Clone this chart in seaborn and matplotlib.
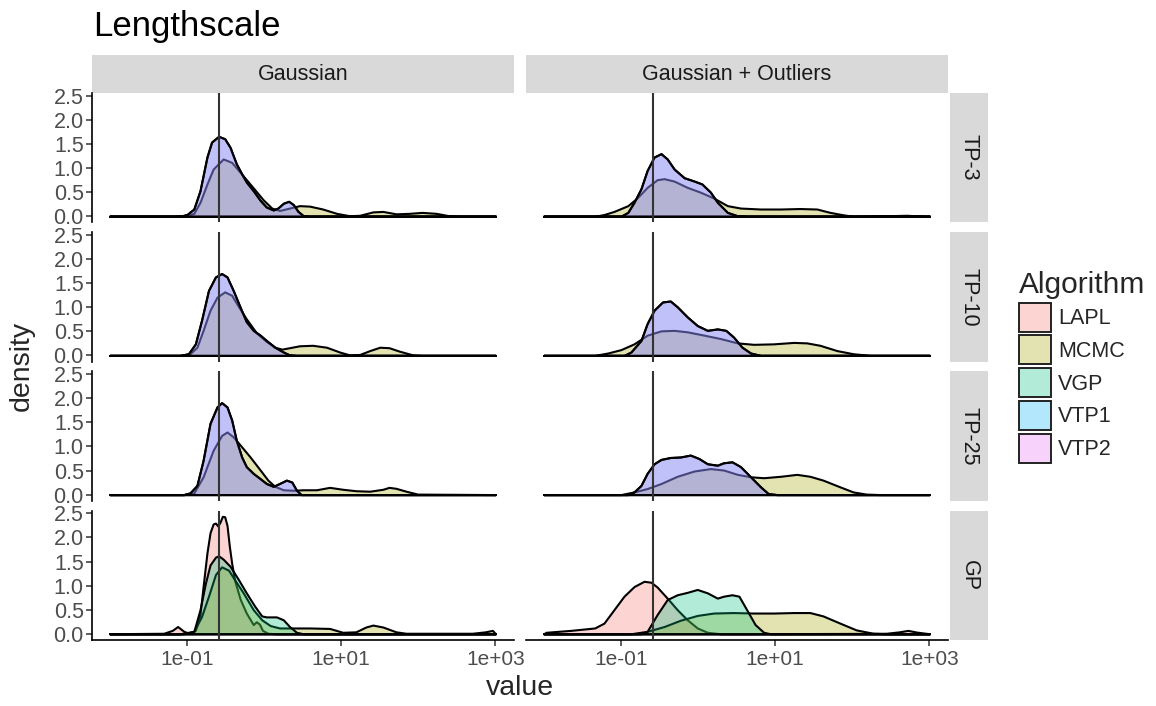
import numpy as np
import pandas as pd
import seaborn as sns
import matplotlib
matplotlib.use("Agg")
import matplotlib.pyplot as plt
from matplotlib.patches import Rectangle, Patch
from matplotlib.colors import to_rgba
from matplotlib.ticker import FixedLocator, NullLocator

sns.set_theme(style="ticks")
plt.rcParams["font.family"] = ["Liberation Sans", "DejaVu Sans"]

# ---------------- data (log10 of value, density) ----------------
models = ["TP-3", "TP-10", "TP-25", "GP"]
noises = ["Gaussian", "Gaussian + Outliers"]
algorithms = ["LAPL", "MCMC", "VGP", "VTP1", "VTP2"]
algo_colors = ["#F8766D", "#A3A500", "#00BF7D", "#00B0F6", "#E76BF3"]
true_lengthscale = 0.26
x_ticks = [1e-1, 1e1, 1e3]
x_tick_labels = ["1e-01", "1e+01", "1e+03"]
y_ticks = [0.0, 0.5, 1.0, 1.5, 2.0, 2.5]
y_tick_labels = ["0.0", "0.5", "1.0", "1.5", "2.0", "2.5"]

# TP-3, Gaussian
tp3_g_mcmc_lx = [-2.0, -1.17, -1.0, -0.91, -0.83, -0.74, -0.66, -0.53, -0.42, -0.33, -0.25, -0.14, -0.01, 0.10, 0.20,
                 0.33, 0.46, 0.59, 0.76, 0.94, 1.11, 1.24, 1.41, 1.54, 1.71, 1.88, 2.05, 2.23, 2.40, 2.53, 3.0]
tp3_g_mcmc_d = [0, 0, 0.02, 0.06, 0.29, 0.67, 0.98, 1.19, 1.12, 0.95, 0.80, 0.59, 0.34, 0.17, 0.12,
                0.17, 0.22, 0.21, 0.15, 0.06, 0.01, 0.02, 0.09, 0.10, 0.05, 0.06, 0.08, 0.06, 0.01, 0, 0]
tp3_g_vtp_lx = [-2.0, -1.09, -1.0, -0.91, -0.83, -0.74, -0.68, -0.59, -0.51, -0.44, -0.36, -0.29, -0.23, -0.14,
                -0.05, 0.03, 0.12, 0.18, 0.25, 0.32, 0.38, 0.44, 0.51, 0.59, 3.0]
tp3_g_vtp_d = [0, 0, 0.035, 0.15, 0.53, 1.23, 1.54, 1.66, 1.61, 1.43, 1.09, 0.88, 0.71, 0.53,
               0.33, 0.19, 0.13, 0.17, 0.27, 0.31, 0.24, 0.10, 0.01, 0, 0]

# TP-3, Gaussian + Outliers
tp3_o_mcmc_lx = [-2.0, -1.34, -1.22, -1.09, -0.91, -0.79, -0.66, -0.53, -0.44, -0.31, -0.14, 0.03, 0.20, 0.38,
                 0.55, 0.81, 1.07, 1.32, 1.54, 1.71, 1.88, 2.01, 2.44, 2.70, 2.96, 3.0]
tp3_o_mcmc_d = [0, 0, 0.035, 0.10, 0.22, 0.38, 0.60, 0.76, 0.78, 0.73, 0.60, 0.50, 0.38, 0.22,
                0.17, 0.15, 0.15, 0.16, 0.15, 0.08, 0.03, 0.0, 0.01, 0.02, 0, 0]
tp3_o_vtp_lx = [-2.0, -1.0, -0.91, -0.83, -0.74, -0.66, -0.57, -0.48, -0.40, -0.31, -0.18, -0.05, 0.05, 0.16,
                0.25, 0.38, 0.51, 0.63, 3.0]
tp3_o_vtp_d = [0, 0, 0.08, 0.29, 0.57, 0.95, 1.23, 1.30, 1.19, 0.98, 0.80, 0.73, 0.67, 0.50,
               0.29, 0.08, 0.01, 0, 0]

# TP-10, Gaussian
tp10_g_mcmc_lx = [-2.0, -1.04, -0.96, -0.87, -0.79, -0.70, -0.61, -0.51, -0.42, -0.33, -0.23, -0.10, 0.03, 0.14,
                  0.23, 0.33, 0.46, 0.63, 0.81, 0.98, 1.11, 1.24, 1.37, 1.50, 1.62, 1.75, 1.93, 2.05, 3.0]
tp10_g_mcmc_d = [0, 0, 0.035, 0.17, 0.52, 0.94, 1.21, 1.32, 1.25, 1.01, 0.76, 0.47, 0.29, 0.17,
                 0.13, 0.16, 0.20, 0.21, 0.17, 0.07, 0.01, 0.02, 0.10, 0.17, 0.16, 0.09, 0.01, 0, 0]
tp10_g_vtp_lx = [-2.0, -1.09, -0.98, -0.89, -0.81, -0.72, -0.63, -0.55, -0.48, -0.40, -0.31, -0.23, -0.14, -0.05,
                 0.03, 0.14, 0.25, 0.33, 0.42, 3.0]
tp10_g_vtp_d = [0, 0, 0.035, 0.24, 0.73, 1.35, 1.63, 1.70, 1.63, 1.35, 1.00, 0.70, 0.52, 0.42,
                0.31, 0.17, 0.07, 0.01, 0, 0]

# TP-10, Gaussian + Outliers
tp10_o_mcmc_lx = [-2.0, -1.34, -1.17, -1.0, -0.83, -0.66, -0.48, -0.31, -0.14, 0.08, 0.29, 0.51, 0.72, 0.98,
                  1.24, 1.41, 1.58, 1.80, 2.01, 2.23, 3.0]
tp10_o_mcmc_d = [0, 0, 0.05, 0.12, 0.24, 0.42, 0.51, 0.52, 0.49, 0.42, 0.35, 0.26, 0.23, 0.24,
                 0.27, 0.26, 0.21, 0.10, 0.035, 0, 0]
tp10_o_vtp_lx = [-2.0, -0.96, -0.87, -0.74, -0.66, -0.57, -0.46, -0.36, -0.27, -0.14, -0.01, 0.12, 0.25, 0.36,
                 0.46, 0.57, 0.68, 0.81, 3.0]
tp10_o_vtp_d = [0, 0, 0.07, 0.31, 0.66, 0.94, 1.11, 1.13, 1.01, 0.80, 0.62, 0.52, 0.55, 0.52,
                0.38, 0.17, 0.05, 0, 0]

# TP-25, Gaussian
tp25_g_mcmc_lx = [-2.0, -1.04, -0.91, -0.79, -0.66, -0.55, -0.48, -0.40, -0.31, -0.18, -0.05, 0.05, 0.14, 0.25,
                  0.38, 0.51, 0.68, 0.85, 1.02, 1.19, 1.37, 1.54, 1.62, 1.71, 1.84, 1.99, 3.0]
tp25_g_mcmc_d = [0, 0, 0.035, 0.37, 0.92, 1.23, 1.30, 1.20, 1.03, 0.78, 0.51, 0.30, 0.17, 0.10,
                 0.09, 0.10, 0.10, 0.15, 0.11, 0.08, 0.07, 0.11, 0.15, 0.13, 0.07, 0.01, 0]
tp25_g_vtp_lx = [-2.0, -1.04, -0.96, -0.87, -0.79, -0.70, -0.61, -0.55, -0.48, -0.42, -0.36, -0.29, -0.23, -0.14,
                 -0.05, 0.03, 0.12, 0.20, 0.29, 0.36, 0.42, 0.48, 3.0]
tp25_g_vtp_d = [0, 0, 0.035, 0.19, 0.71, 1.48, 1.82, 1.91, 1.82, 1.55, 1.13, 0.78, 0.58, 0.44,
                0.33, 0.23, 0.17, 0.23, 0.30, 0.26, 0.09, 0, 0]

# TP-25, Gaussian + Outliers
tp25_o_mcmc_lx = [-2.0, -1.0, -0.83, -0.66, -0.48, -0.27, -0.05, 0.16, 0.33, 0.51, 0.68, 0.85, 1.07, 1.28,
                  1.45, 1.62, 1.84, 2.01, 2.18, 2.36, 3.0]
tp25_o_mcmc_d = [0, 0, 0.055, 0.125, 0.23, 0.38, 0.49, 0.54, 0.51, 0.42, 0.37, 0.35, 0.38, 0.42,
                 0.38, 0.30, 0.16, 0.055, 0.01, 0, 0]
tp25_o_vtp_lx = [-2.0, -0.91, -0.83, -0.74, -0.66, -0.57, -0.48, -0.36, -0.23, -0.10, 0.01, 0.12, 0.25, 0.33,
                 0.44, 0.55, 0.68, 0.81, 0.91, 1.02, 3.0]
tp25_o_vtp_d = [0, 0, 0.055, 0.19, 0.44, 0.64, 0.73, 0.77, 0.78, 0.82, 0.75, 0.64, 0.61, 0.66,
                0.68, 0.58, 0.37, 0.16, 0.02, 0, 0]

# GP, Gaussian
gp_g_lapl_lx = [-2.0, -1.30, -1.19, -1.12, -1.04, -0.97, -0.89, -0.83, -0.79, -0.74, -0.70, -0.66, -0.63, -0.60,
                -0.57, -0.54, -0.51, -0.48, -0.45, -0.42, -0.38, -0.31, -0.23, -0.14, -0.10, -0.06, -0.02, 0.05,
                0.16, 3.0]
gp_g_lapl_d = [0, 0.01, 0.07, 0.15, 0.05, 0.01, 0.07, 0.40, 0.98, 1.68, 2.10, 2.28, 2.30, 2.24,
               2.32, 2.44, 2.43, 2.25, 1.82, 1.47, 1.10, 0.72, 0.43, 0.19, 0.25, 0.20, 0.07, 0.01,
               0, 0]
gp_g_mcmc_lx = [-2.0, -1.09, -0.91, -0.81, -0.72, -0.63, -0.55, -0.46, -0.38, -0.27, -0.14, -0.03, 0.08, 0.20,
                0.38, 0.59, 0.85, 1.02, 1.19, 1.32, 1.41, 1.54, 1.71, 1.84, 2.70, 2.87, 2.96, 3.0]
gp_g_mcmc_d = [0, 0, 0.05, 0.36, 0.78, 1.23, 1.39, 1.32, 1.12, 0.85, 0.50, 0.29, 0.17, 0.12,
               0.12, 0.12, 0.11, 0.03, 0.04, 0.14, 0.18, 0.14, 0.04, 0.01, 0.01, 0.04, 0.07, 0]
gp_g_vgp_lx = [-2.0, -1.04, -0.91, -0.83, -0.76, -0.70, -0.63, -0.59, -0.53, -0.44, -0.33, -0.23, -0.12, -0.03,
               0.03, 0.16, 0.25, 0.33, 0.42, 0.51, 3.0]
gp_g_vgp_d = [0, 0, 0.05, 0.50, 1.05, 1.43, 1.59, 1.62, 1.55, 1.40, 1.12, 0.85, 0.57, 0.37,
              0.35, 0.35, 0.29, 0.15, 0.03, 0, 0]

# GP, Gaussian + Outliers
gp_o_lapl_lx = [-2.0, -1.97, -1.65, -1.34, -1.22, -1.09, -0.96, -0.83, -0.70, -0.61, -0.53, -0.40, -0.27, -0.14,
                -0.01, 0.12, 0.29, 0.72, 2.44, 2.61, 2.72, 2.83, 3.0]
gp_o_lapl_d = [0, 0.03, 0.07, 0.12, 0.22, 0.50, 0.78, 0.98, 1.09, 1.07, 0.97, 0.74, 0.50, 0.29,
               0.12, 0.03, 0, 0, 0.01, 0.04, 0.07, 0.035, 0]
gp_o_mcmc_lx = [-2.0, -0.87, -0.66, -0.44, -0.23, -0.01, 0.20, 0.46, 0.72, 0.98, 1.24, 1.45, 1.62, 1.84,
                2.05, 2.27, 2.44, 3.0]
gp_o_mcmc_d = [0, 0, 0.05, 0.15, 0.28, 0.38, 0.43, 0.44, 0.43, 0.43, 0.44, 0.44, 0.37, 0.22,
               0.08, 0.01, 0, 0]
gp_o_vgp_lx = [-2.0, -0.74, -0.66, -0.53, -0.40, -0.27, -0.14, -0.01, 0.12, 0.25, 0.33, 0.44, 0.53, 0.63,
               0.74, 0.85, 0.94, 3.0]
gp_o_vgp_d = [0, 0, 0.05, 0.40, 0.71, 0.81, 0.86, 0.92, 0.85, 0.74, 0.78, 0.81, 0.78, 0.50,
              0.19, 0.03, 0, 0]

# VTP1 and VTP2 coincide in the picture for the TP rows
curves = [
    ("TP-3", "Gaussian", "MCMC", tp3_g_mcmc_lx, tp3_g_mcmc_d),
    ("TP-3", "Gaussian", "VTP1", tp3_g_vtp_lx, tp3_g_vtp_d),
    ("TP-3", "Gaussian", "VTP2", tp3_g_vtp_lx, tp3_g_vtp_d),
    ("TP-3", "Gaussian + Outliers", "MCMC", tp3_o_mcmc_lx, tp3_o_mcmc_d),
    ("TP-3", "Gaussian + Outliers", "VTP1", tp3_o_vtp_lx, tp3_o_vtp_d),
    ("TP-3", "Gaussian + Outliers", "VTP2", tp3_o_vtp_lx, tp3_o_vtp_d),
    ("TP-10", "Gaussian", "MCMC", tp10_g_mcmc_lx, tp10_g_mcmc_d),
    ("TP-10", "Gaussian", "VTP1", tp10_g_vtp_lx, tp10_g_vtp_d),
    ("TP-10", "Gaussian", "VTP2", tp10_g_vtp_lx, tp10_g_vtp_d),
    ("TP-10", "Gaussian + Outliers", "MCMC", tp10_o_mcmc_lx, tp10_o_mcmc_d),
    ("TP-10", "Gaussian + Outliers", "VTP1", tp10_o_vtp_lx, tp10_o_vtp_d),
    ("TP-10", "Gaussian + Outliers", "VTP2", tp10_o_vtp_lx, tp10_o_vtp_d),
    ("TP-25", "Gaussian", "MCMC", tp25_g_mcmc_lx, tp25_g_mcmc_d),
    ("TP-25", "Gaussian", "VTP1", tp25_g_vtp_lx, tp25_g_vtp_d),
    ("TP-25", "Gaussian", "VTP2", tp25_g_vtp_lx, tp25_g_vtp_d),
    ("TP-25", "Gaussian + Outliers", "MCMC", tp25_o_mcmc_lx, tp25_o_mcmc_d),
    ("TP-25", "Gaussian + Outliers", "VTP1", tp25_o_vtp_lx, tp25_o_vtp_d),
    ("TP-25", "Gaussian + Outliers", "VTP2", tp25_o_vtp_lx, tp25_o_vtp_d),
    ("GP", "Gaussian", "LAPL", gp_g_lapl_lx, gp_g_lapl_d),
    ("GP", "Gaussian", "MCMC", gp_g_mcmc_lx, gp_g_mcmc_d),
    ("GP", "Gaussian", "VGP", gp_g_vgp_lx, gp_g_vgp_d),
    ("GP", "Gaussian + Outliers", "LAPL", gp_o_lapl_lx, gp_o_lapl_d),
    ("GP", "Gaussian + Outliers", "MCMC", gp_o_mcmc_lx, gp_o_mcmc_d),
    ("GP", "Gaussian + Outliers", "VGP", gp_o_vgp_lx, gp_o_vgp_d),
]

frames = []
for model, noise, algo, lx, d in curves:
    frames.append(pd.DataFrame({"model": model, "noise": noise, "Algorithm": algo,
                                "value": np.power(10.0, np.asarray(lx)), "density": d}))
df = pd.concat(frames, ignore_index=True)

FILL_ALPHA = 0.3
palette = dict(zip(algorithms, algo_colors))


def draw_density(data, color, **kws):
    ax = plt.gca()
    ax.fill_between(data["value"], 0, data["density"], facecolor=to_rgba(color, FILL_ALPHA),
                    edgecolor="black", linewidth=1.5)


g = sns.FacetGrid(df, row="model", col="noise", hue="Algorithm",
                  row_order=models, col_order=noises, hue_order=algorithms, palette=palette,
                  sharex=True, sharey=True, despine=False, height=2, aspect=1.6)
g.map_dataframe(draw_density)

fig = g.figure
fig.set_size_inches(11.56, 7.06)
fig.set_dpi(100)
W, H = 1156, 706
fig.subplots_adjust(left=92 / W, right=948 / W, top=1 - 93 / H, bottom=1 - 640 / H,
                    wspace=12 / 422, hspace=0.0747)

tick_col = "#4D4D4D"
strip_col = "#D9D9D9"
for i, model in enumerate(models):
    for j, noise in enumerate(noises):
        ax = g.axes[i, j]
        ax.set_title("")
        ax.set_xlabel("")
        ax.set_ylabel("")
        ax.set_xscale("log")
        ax.set_xlim(10 ** -2.23, 10 ** 3.24)
        ax.set_ylim(-0.13, 2.56)
        ax.axvline(true_lengthscale, color="#333333", linewidth=1.5, zorder=10)
        ax.xaxis.set_major_locator(FixedLocator(x_ticks))
        ax.xaxis.set_minor_locator(NullLocator())
        ax.set_xticks(x_ticks, labels=x_tick_labels)
        ax.set_yticks(y_ticks, labels=y_tick_labels)
        ax.set_facecolor("white")
        for s in ["top", "right"]:
            ax.spines[s].set_visible(False)
        ax.spines["left"].set_visible(j == 0)
        ax.spines["bottom"].set_visible(i == len(models) - 1)
        for s in ["left", "bottom"]:
            ax.spines[s].set_color("black")
            ax.spines[s].set_linewidth(1.2)
        ax.tick_params(axis="x", bottom=(i == len(models) - 1), labelbottom=(i == len(models) - 1),
                       labelsize=15, colors="#333333", labelcolor=tick_col, length=4, width=1.1, pad=3)
        ax.tick_params(axis="y", left=(j == 0), labelleft=(j == 0),
                       labelsize=15.5, colors="#333333", labelcolor=tick_col, length=4, width=1.1, pad=2)
        pos = ax.get_position()
        if i == 0:
            sh = (38 / H) / pos.height
            ax.add_patch(Rectangle((0, 1), 1, sh, transform=ax.transAxes, clip_on=False,
                                   facecolor=strip_col, edgecolor="none"))
            ax.text(0.5, 1 + sh / 2, noise, transform=ax.transAxes, ha="center", va="center",
                    fontsize=15.5, color="#1A1A1A")
        if j == len(noises) - 1:
            sw = (38 / W) / pos.width
            gap = (2 / W) / pos.width
            ax.add_patch(Rectangle((1 + gap, 0), sw, 1, transform=ax.transAxes, clip_on=False,
                                   facecolor=strip_col, edgecolor="none"))
            ax.text(1 + gap + sw / 2, 0.5, model, transform=ax.transAxes, ha="center", va="center",
                    rotation=-90, fontsize=15.5, color="#1A1A1A")

fig.text(93 / W, 1 - 36 / H, "Lengthscale", fontsize=25, ha="left", va="baseline", color="black")
fig.text(520 / W, 1 - 688 / H, "value", fontsize=20.5, ha="center", va="center")
fig.text(22 / W, 1 - 366 / H, "density", fontsize=20.5, ha="center", va="center", rotation=90)

handles = [Patch(facecolor=to_rgba(c, FILL_ALPHA), edgecolor="#222222", linewidth=1.4, label=a)
           for a, c in zip(algorithms, algo_colors)]
fig.legend(handles=handles, title="Algorithm", loc="upper left",
           bbox_to_anchor=(1019 / W, 1 - 271 / H), frameon=False, fontsize=15.5,
           title_fontsize=21.5, handlelength=1.5, handleheight=1.7, labelspacing=0.17,
           handletextpad=0.3, borderpad=0, borderaxespad=0, alignment="left")

fig.savefig("out.png", dpi=100)
